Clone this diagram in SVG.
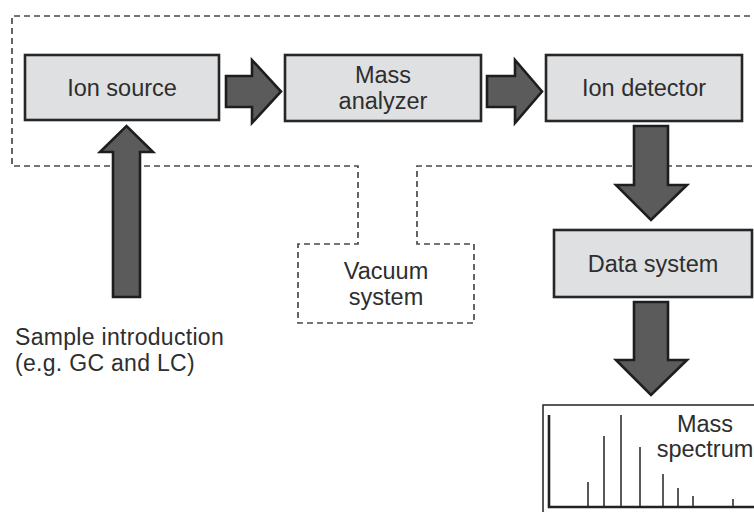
<svg xmlns="http://www.w3.org/2000/svg" width="754" height="512" viewBox="0 0 754 512">
<style>
.box{fill:#dfe0e2;stroke:#262626;stroke-width:2.6}
.lbl{font-family:"Liberation Sans",Arial,sans-serif;font-size:23.5px;fill:#2e2e2e;text-anchor:middle}
.side{font-family:"Liberation Sans",Arial,sans-serif;font-size:23px;fill:#2e2e2e}
.dash{fill:none;stroke:#4a4a4a;stroke-width:1.7;stroke-dasharray:6 4}
.arr{fill:#5b5b5b;stroke:#1e1e1e;stroke-width:2.6;stroke-linejoin:miter}
.peak{stroke:#222;stroke-width:1.5}
</style>
<rect width="754" height="512" fill="#fff"/>
<g id="vacuum-system">
<path class="dash" d="M760,16 H12 V166 H358 V244 H298 V323 H474 V244 H417 V166 H760"/>
<text class="lbl" x="386" y="279">Vacuum</text>
<text class="lbl" x="386" y="305">system</text>
</g>
<g id="ion-source">
<rect class="box" x="25" y="55" width="194" height="65"/>
<text class="lbl" x="122" y="96">Ion source</text>
</g>
<g id="mass-analyzer">
<rect class="box" x="285" y="55" width="196" height="66"/>
<text class="lbl" x="383" y="83">Mass</text>
<text class="lbl" x="383" y="109">analyzer</text>
</g>
<g id="ion-detector">
<rect class="box" x="546" y="55" width="196" height="66"/>
<text class="lbl" x="644" y="96">Ion detector</text>
</g>
<g id="data-system">
<rect class="box" x="554" y="230" width="198" height="67"/>
<text class="lbl" x="653" y="272">Data system</text>
</g>
<g id="sample-introduction">
<text class="side" x="15" y="345" letter-spacing="0.3">Sample introduction</text>
<text class="side" x="15" y="371" letter-spacing="0.3">(e.g. GC and LC)</text>
</g>
<g id="mass-spectrum">
<rect x="543" y="405" width="230" height="130" fill="#fff" stroke="#222" stroke-width="1.5"/>
<polyline points="549,415 549,507 770,507" fill="none" stroke="#222" stroke-width="2.6"/>
<line class="peak" x1="588" y1="507" x2="588" y2="482"/>
<line class="peak" x1="604" y1="507" x2="604" y2="436"/>
<line class="peak" x1="621" y1="507" x2="621" y2="415"/>
<line class="peak" x1="640" y1="507" x2="640" y2="447"/>
<line class="peak" x1="663" y1="507" x2="663" y2="474"/>
<line class="peak" x1="678" y1="507" x2="678" y2="488"/>
<line class="peak" x1="693" y1="507" x2="693" y2="496"/>
<line class="peak" x1="733" y1="507" x2="733" y2="499"/>
<text class="lbl" x="705" y="432">Mass</text>
<text class="lbl" x="705" y="457">spectrum</text>
</g>
<g id="connectors">
<polygon class="arr" points="226,76 252,76 252,60 281,91.5 252,123 252,107 226,107"/>
<polygon class="arr" points="487,76 515,76 515,60 542,91.5 515,123 515,107 487,107"/>
<polygon class="arr" points="113,297 113,152 100,152 126.5,126 153,152 140,152 140,297"/>
<polygon class="arr" points="634,126 668,126 668,185 687,185 651,220 616,185 634,185"/>
<polygon class="arr" points="634,302 668,302 668,360 687,360 651,395 616,360 634,360"/>
</g>
</svg>
